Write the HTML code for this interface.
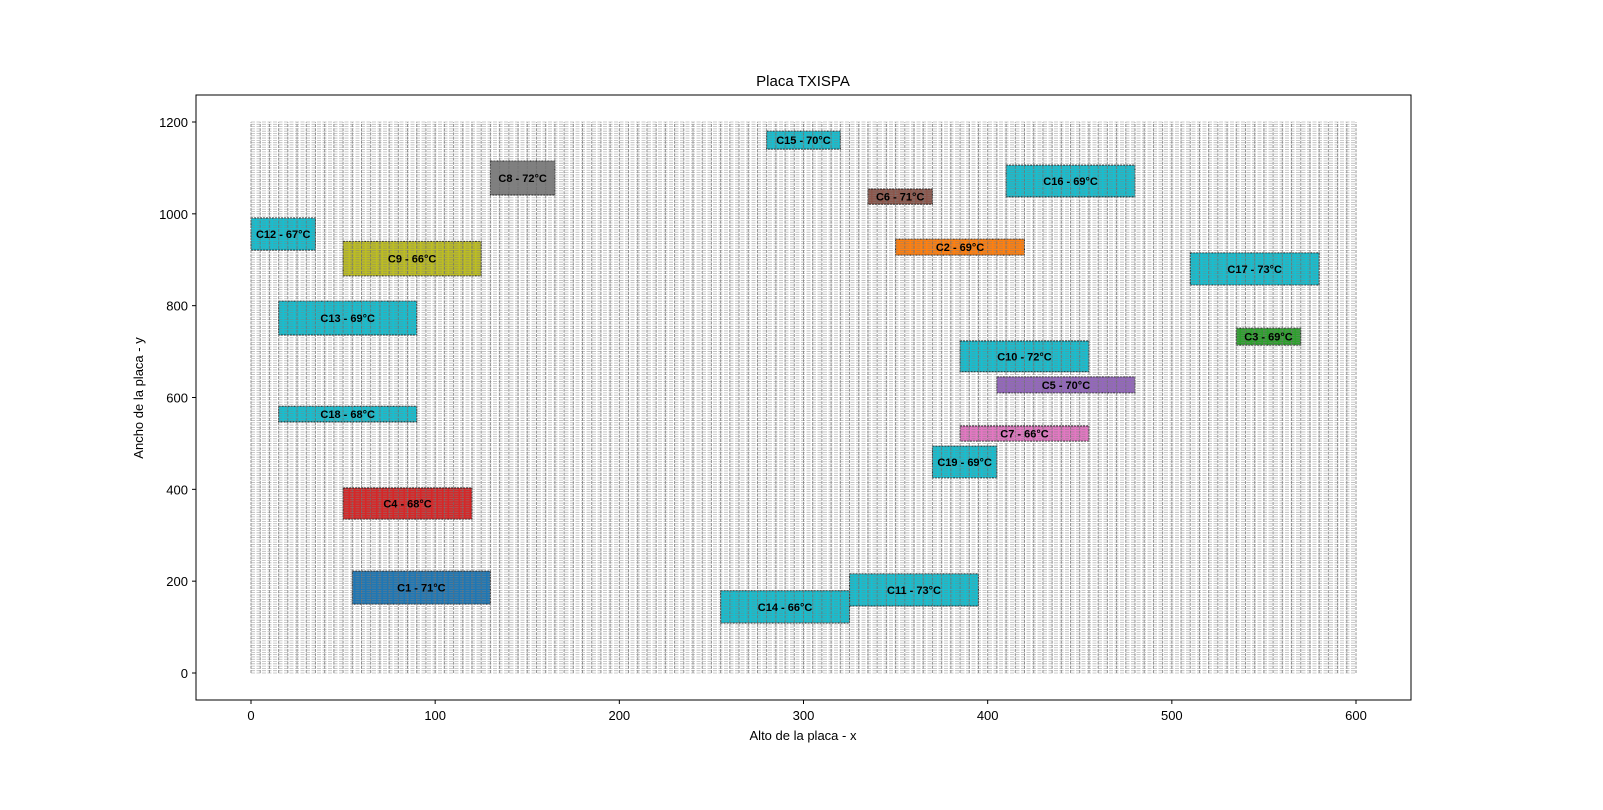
<!DOCTYPE html>
<html><head><meta charset="utf-8"><style>
body{margin:0;background:#fff;overflow:hidden;}
svg text{font-family:"Liberation Sans","DejaVu Sans",sans-serif;}
</style></head><body>
<svg id="chart" width="1603" height="805" xmlns="http://www.w3.org/2000/svg">
<rect width="1603" height="805" fill="#fff"/>
<g id="rects"></g>
<g id="grid"></g>
<g id="labels"></g>
<rect x="196" y="95" width="1215" height="605" fill="none" stroke="#000" stroke-width="1"/>
<g id="axes"></g>
<text x="803" y="86" text-anchor="middle" font-size="15">Placa TXISPA</text>
<text x="803" y="740" text-anchor="middle" font-size="13">Alto de la placa - x</text>
<text transform="translate(143,398) rotate(-90)" text-anchor="middle" font-size="13">Ancho de la placa - y</text>
</svg>
<script>
const names=["C1","C2","C3","C4","C5","C6","C7","C8","C9","C10","C11","C12","C13","C14","C15","C16","C17","C18","C19"];
const temps=[71,69,69,68,70,71,66,72,66,72,73,67,69,66,70,69,73,68,69];
const x0s=[55,350,535,50,405,335,385,130,50,385,325,0,15,255,280,410,510,15,370];
const x1s=[130,420,570,120,480,370,455,165,125,455,395,35,90,325,320,480,580,90,405];
const y0s=[150,910,714,335,610,1021,505,1041,865,656,146,921,736,109,1141,1037,845,547,425];
const y1s=[222,945,751,403,645,1054,538,1115,940,723,216,991,810,179,1180,1106,915,581,494];
const colors=["#1f77b4","#ff7f0e","#2ca02c","#d62728","#9467bd","#8c564b","#e377c2","#7f7f7f","#bcbd22","#17becf","#17becf","#17becf","#17becf","#17becf","#17becf","#17becf","#17becf","#17becf","#17becf"];
const xTicks=[0,100,200,300,400,500,600];
const yTicks=[0,200,400,600,800,1000,1200];
const X=v=>251+v*(1356-251)/600;
const Y=v=>673-v*(673-122)/1200;
const NS="http://www.w3.org/2000/svg";
function mk(t,a,p){const e=document.createElementNS(NS,t);for(const k in a)e.setAttribute(k,a[k]);p.appendChild(e);return e;}
const rg=document.getElementById('rects'),lg=document.getElementById('labels');
names.forEach((n,i)=>{
 const r=mk('rect',{x:X(x0s[i]),y:Y(y1s[i]),width:X(x1s[i])-X(x0s[i]),height:Y(y0s[i])-Y(y1s[i]),fill:colors[i],stroke:'#222','stroke-width':1,'stroke-dasharray':'2,1'},rg);
 
 
 const t=mk('text',{x:(X(x0s[i])+X(x1s[i]))/2,y:(Y(y0s[i])+Y(y1s[i]))/2+4,'text-anchor':'middle','font-size':11,'font-weight':'bold'},lg);
 t.textContent=n+' - '+temps[i]+'°C';
 
 
});
const grid=document.getElementById('grid');
for(let gx=0;gx<=600;gx+=5){mk('line',{x1:X(gx),x2:X(gx),y1:Y(0),y2:Y(1200),stroke:'rgba(110,110,110,0.75)','stroke-width':1,'stroke-dasharray':'3,1.2'},grid);}
for(let gy=0;gy<=1200;gy+=5){mk('line',{x1:X(0),x2:X(600),y1:Y(gy),y2:Y(gy),stroke:'rgba(130,130,130,0.55)','stroke-width':0.8,'stroke-dasharray':'4,1.5'},grid);}
const ax=document.getElementById('axes');
xTicks.forEach(v=>{mk('line',{x1:X(v),x2:X(v),y1:700,y2:704,stroke:'#000'},ax);const t=mk('text',{x:X(v),y:720,'text-anchor':'middle','font-size':13},ax);t.textContent=v;});
yTicks.forEach(v=>{mk('line',{x1:192,x2:196,y1:Y(v),y2:Y(v),stroke:'#000'},ax);const t=mk('text',{x:188,y:Y(v)+5,'text-anchor':'end','font-size':13},ax);t.textContent=v;});
</script>
</body></html>
